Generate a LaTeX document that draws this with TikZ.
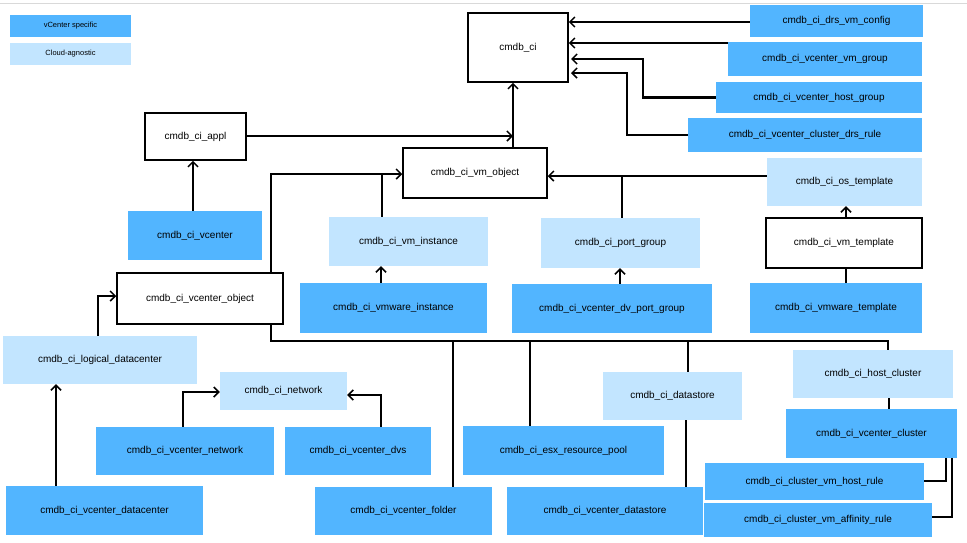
\documentclass[tikz,border=0pt]{standalone}
\usepackage{fontspec}
\setmainfont{Liberation Sans}
\usetikzlibrary{arrows.meta}
\definecolor{dk}{HTML}{52B5FF}
\definecolor{lt}{HTML}{C2E5FF}
\newcommand\bx[7]{\node[#6,minimum width=#4pt-#2pt,minimum height=#5pt-#3pt] (#1) at ({(#2+#4)/2},{(#3+#5)/2}) {#7};}
\begin{document}
\begin{tikzpicture}[x=1pt,y=-1pt,
 dark/.style={fill=dk,inner sep=0pt,font=\fontsize{10}{12}\selectfont},
 light/.style={fill=lt,inner sep=0pt,font=\fontsize{10}{12}\selectfont},
 wht/.style={fill=white,draw=black,line width=1.5pt,inner sep=0pt,font=\fontsize{10}{12}\selectfont},
 leg/.style={inner sep=0pt,font=\fontsize{7.5}{9}\selectfont},
 ln/.style={line width=2.5pt},
 ar/.style={ln,-{Straight Barb[length=5pt,width=10pt,line width=1.5pt]}}]
\useasboundingbox (0,0) rectangle (967,542);
\fill[white] (0,0) rectangle (967,542);
\draw[gray!30,line width=1pt] (0,3) -- (967,3);
\bx{l1}{10}{15}{131}{37}{leg,fill=dk}{vCenter specific}
\bx{l2}{10}{43}{131}{65}{leg,fill=lt}{Cloud-agnostic}
\bx{ci}{468}{13}{568}{82}{wht}{cmdb\_ci}
\bx{drs}{750}{5}{923}{37}{dark}{cmdb\_ci\_drs\_vm\_config}
\bx{vmg}{728}{42}{922}{76}{dark}{cmdb\_ci\_vcenter\_vm\_group}
\bx{hg}{716}{82}{922}{113}{dark}{cmdb\_ci\_vcenter\_host\_group}
\bx{cdr}{688}{118}{922}{152}{dark}{cmdb\_ci\_vcenter\_cluster\_drs\_rule}
\bx{appl}{145}{113}{246}{160}{wht}{cmdb\_ci\_appl}
\bx{vmo}{403}{148}{547}{198}{wht}{cmdb\_ci\_vm\_object}
\bx{vc}{128}{211}{262}{260}{dark}{cmdb\_ci\_vcenter}
\bx{vmi}{329}{217}{488}{266}{light}{cmdb\_ci\_vm\_instance}
\bx{pg}{541}{218}{700}{268}{light}{cmdb\_ci\_port\_group}
\bx{ost}{767}{158}{922}{206}{light}{cmdb\_ci\_os\_template}
\bx{vmt}{766}{218}{922}{268}{wht}{cmdb\_ci\_vm\_template}
\bx{vwt}{750}{283}{922}{333}{dark}{cmdb\_ci\_vmware\_template}
\bx{vwi}{300}{283}{487}{333}{dark}{cmdb\_ci\_vmware\_instance}
\bx{dvpg}{512}{284}{712}{333}{dark}{cmdb\_ci\_vcenter\_dv\_port\_group}
\bx{vco}{117}{273}{283}{324}{wht}{cmdb\_ci\_vcenter\_object}
\bx{ldc}{3}{336}{197}{384}{light}{cmdb\_ci\_logical\_datacenter}
\bx{net}{220}{372}{347}{410}{light}{cmdb\_ci\_network}
\bx{vnet}{96}{427}{274}{475}{dark}{cmdb\_ci\_vcenter\_network}
\bx{dvs}{285}{427}{431}{475}{dark}{cmdb\_ci\_vcenter\_dvs}
\bx{esx}{463}{426}{664}{475}{dark}{cmdb\_ci\_esx\_resource\_pool}
\bx{ds}{603}{372}{742}{420}{light}{cmdb\_ci\_datastore}
\bx{vdc}{6}{486}{203}{535}{dark}{cmdb\_ci\_vcenter\_datacenter}
\bx{fold}{315}{487}{492}{535}{dark}{cmdb\_ci\_vcenter\_folder}
\bx{vds}{507}{487}{703}{535}{dark}{cmdb\_ci\_vcenter\_datastore}
\bx{hc}{793}{350}{953}{398}{light}{cmdb\_ci\_host\_cluster}
\bx{vcl}{786}{409}{957}{458}{dark}{cmdb\_ci\_vcenter\_cluster}
\bx{hr}{705}{463}{924}{500}{dark}{cmdb\_ci\_cluster\_vm\_host\_rule}
\bx{ar}{704}{503}{932}{537}{dark}{cmdb\_ci\_cluster\_vm\_affinity\_rule}
% top connectors
\draw[ar] (drs.west |- 0,22) -- (ci.east |- 0,22);
\draw[ar] (vmg.west |- 0,43) -- (ci.east |- 0,43);
\draw[ar] (hg.west) -- (643,97.5) -- (643,59) -- (571,59);
\draw[ar] (cdr.west) -- (627,135) -- (627,73) -- (571,73);
\draw[ar] (vmo.north -| 513,0) -- (ci.south -| 513,0);
\draw[ar] (appl.east |- 0,136) -- (513,136);
\draw[ar] (vc.north -| 193,0) -- (appl.south -| 193,0);
\draw[ar] (vco.north -| 271,0) -- (271,174) -- (vmo.west |- 0,174);
\draw[ln] (vmi.north -| 382,0) -- (382,174);
\draw[ar] (vwi.north -| 381,0) -- (vmi.south -| 381,0);
\draw[ar] (ost.west |- 0,176) -- (vmo.east |- 0,176);
\draw[ln] (pg.north -| 622,0) -- (622,176);
\draw[ar] (dvpg.north -| 620,0) -- (pg.south -| 620,0);
\draw[ar] (vmt.north -| 846,0) -- (ost.south -| 846,0);
\draw[ln] (vwt.north -| 846,0) -- (vmt.south -| 846,0);
\draw[ar] (ldc.north -| 98,0) -- (98,296) -- (vco.west |- 0,296);
\draw[ar] (vdc.north -| 56,0) -- (ldc.south -| 56,0);
% bus
\draw[ln] (vco.south -| 271,0) -- (271,341) -- (888,341) -- (hc.north -| 888,0);
\draw[ln] (453,341) -- (fold.north -| 453,0);
\draw[ln] (530,341) -- (esx.north -| 530,0);
\draw[ln] (688,341) -- (ds.north -| 688,0);
\draw[ln] (ds.south -| 686,0) -- (vds.north -| 686,0);
\draw[ar] (vnet.north -| 183,0) -- (183,392) -- (net.west |- 0,392);
\draw[ar] (dvs.north -| 381,0) -- (381,395) -- (net.east |- 0,395);
\draw[ln] (hc.south -| 889,0) -- (vcl.north -| 889,0);
\draw[ln] (hr.east |- 0,481) -- (946,481) -- (946,458);
\draw[ln] (ar.east |- 0,517) -- (952,517) -- (952,458);
\end{tikzpicture}
\end{document}
